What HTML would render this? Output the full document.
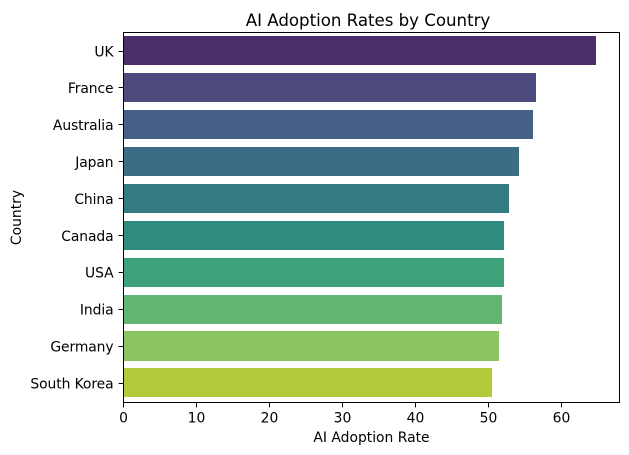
<!DOCTYPE html>
<html>
<head>
<meta charset="utf-8">
<style>
html,body{margin:0;padding:0;background:#fff;width:629px;height:455px;overflow:hidden}
svg{display:block}
text{font-family:"DejaVu Sans",sans-serif;fill:#000}
</style>
</head>
<body>
<svg id="chart" width="629" height="455" viewBox="0 0 629 455" xmlns="http://www.w3.org/2000/svg">
<rect width="629" height="455" fill="#fff"/>
<g id="bars" shape-rendering="crispEdges"></g>
<g id="xticks"></g>
<g id="yticks"></g>
<rect x="123.5" y="32.5" width="496" height="370" fill="none" stroke="#000" stroke-width="1"/>
<text x="368" y="26" text-anchor="middle" style="font-size:16.67px;letter-spacing:-0.03px">AI Adoption Rates by Country</text>
<text x="371.5" y="442" text-anchor="middle" style="font-size:13.89px">AI Adoption Rate</text>
<text transform="translate(21,217.5) rotate(-90)" text-anchor="middle" style="font-size:13.89px">Country</text>
</svg>
<script>
const categories = ["UK","France","Australia","Japan","China","Canada","USA","India","Germany","South Korea"];
const adoptionRates = [64.7,56.5,56.1,54.2,52.8,52.1,52.1,51.85,51.4,50.5];
const xTickValues = [0,10,20,30,40,50,60];
const barColors = ["#4c2e6b","#4d4a7d","#455f86","#3c6d84","#337b80","#2f8b7e","#3ea27a","#62b672","#8bc561","#b3ca3a"];

const NS = "http://www.w3.org/2000/svg";
const plotLeft = 123.5, plotBottom = 402.5;
const pxPerUnit = 7.3;
const xScale = v => plotLeft + v * pxPerUnit;
const bandStep = 36.88, barTop0 = 36.42, barBottom0 = 65.49;
const tickStep = 36.9, tickStart = 51;

const barsGroup = document.getElementById("bars");
const xGroup = document.getElementById("xticks");
const yGroup = document.getElementById("yticks");

function make(tag, attrs, parent) {
  const el = document.createElementNS(NS, tag);
  for (const k in attrs) el.setAttribute(k, attrs[k]);
  parent.appendChild(el);
  return el;
}

categories.forEach((c, i) => {
  const top = Math.round(barTop0 + i * bandStep);
  const bottom = Math.round(barBottom0 + i * bandStep);
  const left = Math.round(xScale(0) - 0.5) + 0.5;
  const right = Math.round(xScale(adoptionRates[i]));
  const bar = make("rect", {x: left, y: top, width: right - left, height: bottom - top, fill: barColors[i]}, barsGroup);
  
  

  const centre = tickStart + i * tickStep;
  const y = Math.floor(centre) + 0.5;
  const tick = make("line", {x1: plotLeft - 4.9, x2: plotLeft, y1: y, y2: y, stroke: "#000", "stroke-width": 1}, yGroup);
  
  

  const label = make("text", {x: plotLeft - 10, y: centre + 5.3, "text-anchor": "end", style: "font-size:13.89px;letter-spacing:-0.09px"}, yGroup);
  
  
  label.textContent = c;
});

xTickValues.forEach(v => {
  const x = Math.round(xScale(v) - 0.5) + 0.5;
  const tick = make("line", {x1: x, x2: x, y1: plotBottom, y2: plotBottom + 4.9, stroke: "#000", "stroke-width": 1}, xGroup);
  
  

  const label = make("text", {x: xScale(v), y: plotBottom + 20, "text-anchor": "middle", style: "font-size:13.89px"}, xGroup);
  
  
  label.textContent = v;
});
</script>
</body>
</html>
